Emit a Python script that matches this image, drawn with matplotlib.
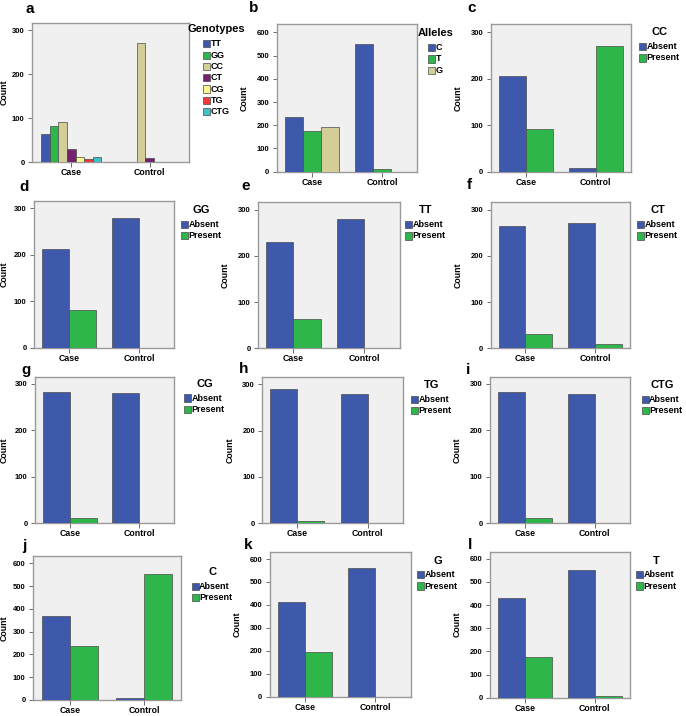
import matplotlib
matplotlib.use("Agg")
import matplotlib.pyplot as plt
from matplotlib.patches import Rectangle
import numpy as np

plt.rcParams['font.family'] = ['Liberation Sans', 'DejaVu Sans']

W, H = 686, 716
DPI = 100

groups = ["Case", "Control"]

# Panel a: genotypes
geno_labels = ["TT", "GG", "CC", "CT", "CG", "TG", "CTG"]
geno_case = [64, 82, 91, 31, 13, 7, 13]
geno_control = [0, 0, 271, 10, 0, 0, 0]

# Panel b: alleles
allele_labels = ["C", "T", "G"]
allele_case = [234, 174, 191]
allele_control = [550, 10, 0]

# Absent/Present panels (values: [Case, Control])
ap_labels = ["Absent", "Present"]
cc_absent, cc_present = [205, 9], [91, 271]
gg_absent, gg_present = [212, 279], [81, 0]
tt_absent, tt_present = [231, 280], [63, 0]
ct_absent, ct_present = [265, 271], [30, 9]
cg_absent, cg_present = [282, 279], [12, 0]
tg_absent, tg_present = [289, 279], [6, 0]
ctg_absent, ctg_present = [282, 279], [12, 0]
c_absent, c_present = [370, 9], [238, 552]
g_absent, g_present = [411, 559], [193, 0]
t_absent, t_present = [429, 551], [174, 8]

BLUE = '#3e58ac'
GREEN = '#2fb64a'
geno_colors = [BLUE, GREEN, '#d3ce97', '#74216f', '#fbf78a', '#ee3a3a', '#40c1c4']
allele_colors = [BLUE, GREEN, '#d3ce97']
ap_colors = [BLUE, GREEN]

fig = plt.figure(figsize=(W / DPI, H / DPI), dpi=DPI)

def px_axes(l, t, r, b):
    return fig.add_axes([l / W, 1 - b / H, (r - l) / W, (b - t) / H])

def fx(x):
    return x / W

def fy(y):
    return 1 - y / H

panels = [
    ("a", (32, 23, 189, 162.3), (30, 9), [geno_case, geno_control], geno_labels, geno_colors, "Genotypes", 316, [0, 100, 200, 300], (203, 29.5), 23.5),
    ("b", (276.7, 24, 417, 171.7), (254, 8), [allele_case, allele_control], allele_labels, allele_colors, "Alleles", 636, list(range(0, 700, 100)), (428, 33.3), 28),
    ("c", (490.7, 24, 630.7, 171.7), (472, 8), None, None, None, "CC", 318, [0, 100, 200, 300], (639, 32.3), 28),
    ("d", (34, 201, 174, 347.7), (24, 187), None, None, None, "GG", 316, [0, 100, 200, 300], (181, 210), 25.5),
    ("e", (258, 202.3, 399.7, 348.3), (246, 186), None, None, None, "TT", 316, [0, 100, 200, 300], (405.3, 210.3), 28),
    ("f", (490.7, 202.3, 629.7, 348.3), (469, 185), None, None, None, "CT", 316, [0, 100, 200, 300], (637.3, 210.3), 28),
    ("g", (35, 376.7, 174, 523.3), (26, 370), None, None, None, "CG", 315, [0, 100, 200, 300], (184.3, 383.7), 26.5),
    ("h", (262.3, 377.3, 402.7, 523.3), (244, 369), None, None, None, "TG", 315, [0, 100, 200, 300], (411, 385), 28),
    ("i", (490, 377, 629.7, 523.3), (468, 370), None, None, None, "CTG", 315, [0, 100, 200, 300], (641.7, 385), 28),
    ("j", (33, 555.7, 181, 700), (24, 546), None, None, None, "C", 633, list(range(0, 700, 100)), (191.7, 572), 24.5),
    ("k", (269.7, 551.7, 410.7, 696.7), (248, 545), None, None, None, "G", 632, list(range(0, 700, 100)), (417.3, 560.5), 28),
    ("l", (490, 551.7, 629.7, 697.7), (470, 545), None, None, None, "T", 630, list(range(0, 700, 100)), (636, 560.5), 28),
]

ap_data = {
    "c": (cc_absent, cc_present), "d": (gg_absent, gg_present), "e": (tt_absent, tt_present),
    "f": (ct_absent, ct_present), "g": (cg_absent, cg_present), "h": (tg_absent, tg_present),
    "i": (ctg_absent, ctg_present), "j": (c_absent, c_present), "k": (g_absent, g_present),
    "l": (t_absent, t_present),
}

CLUSTER = 0.77
x = np.arange(len(groups))

fig.canvas.draw()
renderer = fig.canvas.get_renderer()

for letter, rect, lpos, series, labels, colors, title, ymax, ticks, leg, ylab_off in panels:
    ax = px_axes(*rect)
    if series is None:
        a_vals, p_vals = ap_data[letter]
        by_cat = [a_vals, p_vals]
        labels = ap_labels
        colors = ap_colors
    else:
        by_cat = [[series[g][k] for g in range(len(groups))] for k in range(len(labels))]
    n = len(by_cat)
    bw = CLUSTER / n
    for k in range(n):
        offs = -CLUSTER / 2 + bw * (k + 0.5)
        ax.bar(x + offs, by_cat[k], width=bw, color=colors[k], edgecolor='#4a4a4a', linewidth=0.5, zorder=3)
    ax.set_xlim(-0.5, 1.5)
    ax.set_ylim(0, ymax)
    ax.set_facecolor('#f0f0f0')
    for s in ax.spines.values():
        s.set_color('#9a9a9a')
        s.set_linewidth(1.0)
    ax.set_yticks(ticks)
    ax.set_yticklabels([str(t) for t in ticks], fontsize=5.5, fontweight='bold')
    ax.set_xticks(x)
    ax.set_xticklabels(groups, fontsize=6.3, fontweight='bold')
    ax.tick_params(axis='y', length=3, width=0.6, color='#555555', pad=2.2)
    ax.tick_params(axis='x', length=3.5, width=0.6, color='#555555', pad=0.8)
    ax.set_ylabel("Count", fontsize=6.3, fontweight='bold')
    ax.yaxis.set_label_coords(-ylab_off / (rect[2] - rect[0]), 0.5)

    fig.text(fx(lpos[0]), fy(lpos[1]), letter, fontsize=11, fontweight='bold', ha='center', va='center')

    pl, ty = leg
    first = ty + 14.3
    step = 11.3
    maxr = pl
    for k, lab in enumerate(labels):
        cy = first + step * k
        fig.patches.append(Rectangle((fx(pl), fy(cy + 3.6)), 7 / W, 7.2 / H, transform=fig.transFigure,
                                     facecolor=colors[k], edgecolor='#4a4a4a', linewidth=0.5))
        t = fig.text(fx(pl + 7.5), fy(cy), lab, fontsize=6.5, fontweight='bold', ha='left', va='center')
        bb = t.get_window_extent(renderer=renderer)
        maxr = max(maxr, bb.x1)
    fig.text(fx((pl + maxr) / 2), fy(ty), title, fontsize=8, fontweight='bold', ha='center', va='center')

fig.savefig("out.png", dpi=DPI)
